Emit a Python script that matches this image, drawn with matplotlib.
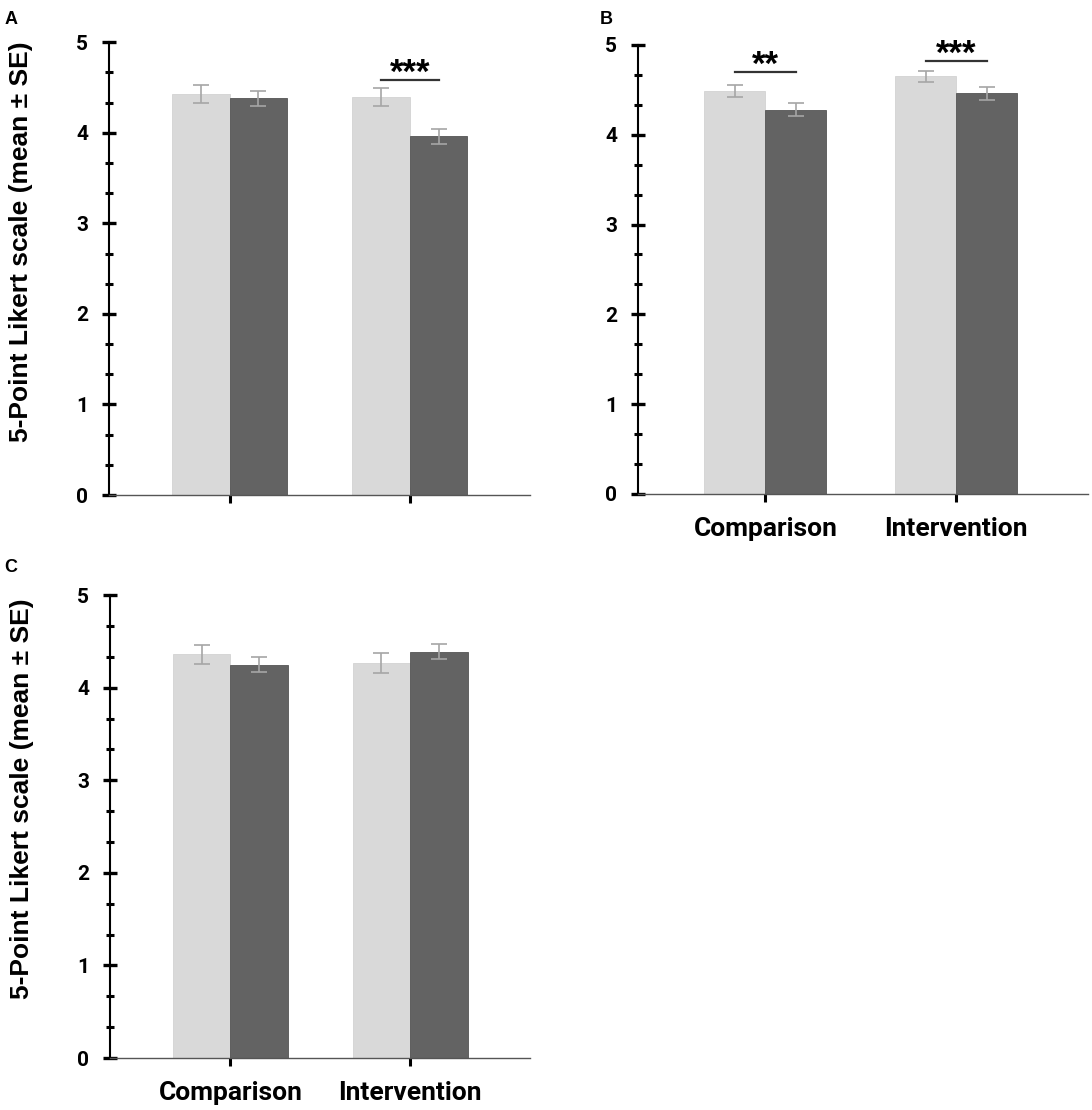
import numpy as np
import matplotlib.pyplot as plt
from matplotlib.ticker import MultipleLocator

# Datos
grupos = ['Comparison', 'Intervention']

a_claro = [4.43, 4.39]
a_claro_se = [0.10, 0.10]
a_oscuro = [4.38, 3.96]
a_oscuro_se = [0.08, 0.08]

b_claro = [4.49, 4.65]
b_claro_se = [0.065, 0.06]
b_oscuro = [4.28, 4.46]
b_oscuro_se = [0.075, 0.07]

c_claro = [4.36, 4.27]
c_claro_se = [0.107, 0.107]
c_oscuro = [4.25, 4.39]
c_oscuro_se = [0.077, 0.08]

# (indice de grupo, estrellas, altura de la linea)
sig_a = [(1, '***', 4.58)]
sig_b = [(0, '**', 4.70), (1, '***', 4.82)]

color_claro = '#d9d9d9'
color_oscuro = '#636363'
color_err = '#a6a6a6'
ancho = 0.32

fig = plt.figure(figsize=(10.92, 11.10), dpi=100)


def panel(rect, claro, claro_se, oscuro, oscuro_se, sig, xlabels, xmax):
    ax = fig.add_axes(rect)
    x = np.arange(len(grupos))
    ax.bar(x - ancho / 2, claro, ancho, color=color_claro, edgecolor='#d3d3d3', linewidth=0.6, zorder=2)
    ax.bar(x + ancho / 2, oscuro, ancho, color=color_oscuro, edgecolor='#555555', linewidth=0.6, zorder=2)
    ax.errorbar(x - ancho / 2, claro, yerr=claro_se, fmt='none', ecolor=color_err,
                elinewidth=1.2, capsize=6, capthick=1.2, zorder=3)
    ax.errorbar(x + ancho / 2, oscuro, yerr=oscuro_se, fmt='none', ecolor=color_err,
                elinewidth=1.2, capsize=6, capthick=1.2, zorder=3)

    for i, estrellas, h in sig:
        ax.plot([i - ancho / 2, i + ancho / 2], [h, h], color='#333333', lw=1.6, zorder=3)
        ax.text(i, h - 0.03, estrellas, ha='center', va='baseline', fontsize=25,
                fontweight='bold', family='Liberation Sans', color='black')

    ax.set_ylim(0, 5)
    ax.set_xlim(-0.67, xmax)
    ax.spines['top'].set_visible(False)
    ax.spines['right'].set_visible(False)
    ax.spines['left'].set_linewidth(1.5)
    ax.spines['left'].set_color('black')
    ax.spines['bottom'].set_linewidth(1.0)
    ax.spines['bottom'].set_color('#555555')

    ax.yaxis.set_major_locator(MultipleLocator(1))
    ax.yaxis.set_minor_locator(MultipleLocator(1 / 3))
    ax.tick_params(axis='y', which='major', direction='inout', length=10, width=2.4,
                   color='black', pad=10, labelsize=15)
    ax.tick_params(axis='y', which='minor', direction='inout', length=6, width=2.2, color='black')
    ax.set_xticks(x)
    ax.set_xticklabels(xlabels)
    ax.tick_params(axis='x', direction='inout', length=11, width=2.2, color='black',
                   pad=11, labelsize=19)
    for lab in ax.get_yticklabels():
        lab.set_fontweight('bold')
        lab.set_family('Roboto')
    for lab in ax.get_xticklabels():
        lab.set_fontweight('bold')
        lab.set_family('Roboto')
    return ax


ax_a = panel([0.0998, 0.554, 0.3855, 0.408], a_claro, a_claro_se, a_oscuro, a_oscuro_se,
             sig_a, ['', ''], 1.667)
ax_b = panel([0.584, 0.555, 0.412, 0.4045], b_claro, b_claro_se, b_oscuro, b_oscuro_se,
             sig_b, grupos, 1.69)
ax_c = panel([0.1007, 0.0468, 0.3846, 0.417], c_claro, c_claro_se, c_oscuro, c_oscuro_se,
             [], grupos, 1.667)

etiqueta_y = '5-Point Likert scale (mean ± SE)'
for ax in (ax_a, ax_c):
    ax.set_ylabel(etiqueta_y, fontsize=19, fontweight='bold', family='Liberation Sans')
    ax.yaxis.set_label_coords(-0.18, 0.56)

fig.text(0.004, 0.982, 'A', fontsize=13, fontweight='bold', family='Liberation Sans', va='center')
fig.text(0.549, 0.982, 'B', fontsize=13, fontweight='bold', family='Liberation Sans', va='center')
fig.text(0.004, 0.489, 'C', fontsize=13, fontweight='bold', family='Liberation Sans', va='center')

fig.savefig('out.png', dpi=100)
